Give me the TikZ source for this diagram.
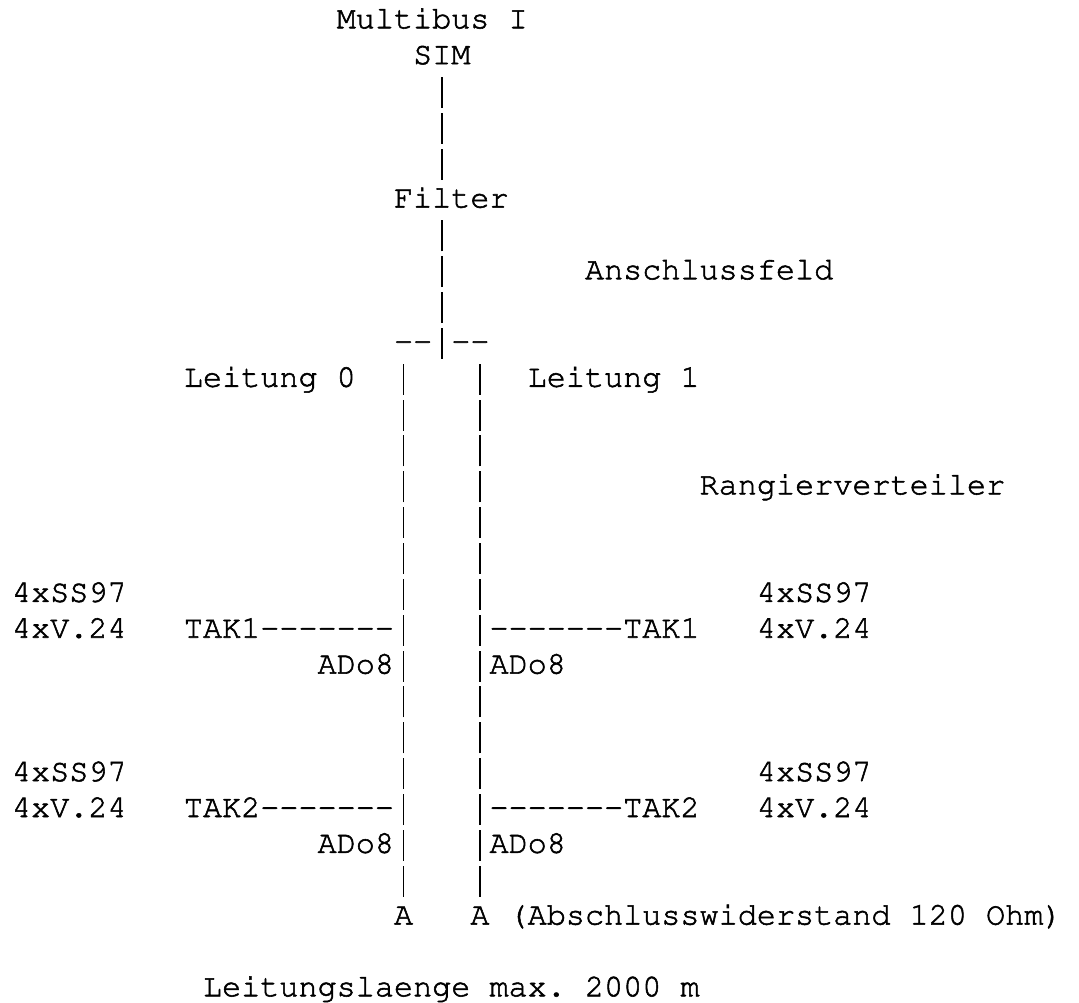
\documentclass[tikz,border=0pt]{standalone}
\usepackage[T1]{fontenc}
\usepackage{courier}
\frenchspacing

% One fragment of the typewriter layout: name, column, row, text.
% Columns are 19.1 units wide, rows 35.85 units apart.
\newcommand\rowtext[4]{%
  \node[txt] (#1) at ({12+(#2)*19.1},{973.7-((#3)-1)*35.85}) {#4};}
% a full-height vertical bar, one character cell wide
\newcommand\vb{\makebox[19.1pt]{\rule[-8pt]{1.8pt}{31pt}}}
% slightly heavier strokes for the typewriter glyphs
\newcommand\heavytext{\special{pdf:code 2 Tr 0.55 w}}

\begin{document}
\begin{tikzpicture}[x=1pt,y=1pt,
  txt/.style={font=\ttfamily\fontsize{31.83}{36}\selectfont\heavytext,
              anchor=base west, inner sep=0pt, outer sep=0pt, text=black}]
  \fill[white] (0,0) rectangle (1079,1002);
  \useasboundingbox (0,0) rectangle (1079,1002);

  % bus and filter
  \rowtext{bus}{17}{1}{Multibus I}
  \rowtext{sim}{21}{2}{SIM}
  \rowtext{s3}{22}{3}{\vb}
  \rowtext{s4}{22}{4}{\vb}
  \rowtext{s5}{22}{5}{\vb}
  \rowtext{filter}{20}{6}{Filter}
  \rowtext{s7}{22}{7}{\vb}
  \rowtext{s8}{22}{8}{\vb}
  \rowtext{feld}{30}{8}{Anschlussfeld}
  \rowtext{s9}{22}{9}{\vb}
  \rowtext{split}{20}{10}{-{}-\vb-{}-}

  % the two lines
  \rowtext{lt0}{9}{11}{Leitung 0}
  \rowtext{l11}{20}{11}{\vb}
  \rowtext{r11}{24}{11}{\vb}
  \rowtext{lt1}{27}{11}{Leitung 1}
  \foreach \k in {12,13,14,15,16,17,20,21,22,25}{
    \rowtext{l\k}{20}{\k}{\vb}
    \rowtext{r\k}{24}{\k}{\vb}
  }
  \rowtext{rang}{36}{14}{Rangierverteiler}

  % first pair of terminals
  \rowtext{ssL1}{0}{17}{4xSS97}
  \rowtext{ssR1}{39}{17}{4xSS97}
  \rowtext{vL1}{0}{18}{4xV.24}
  \rowtext{takL1}{9}{18}{TAK1-{}-{}-{}-{}-{}-{}-\vb}
  \rowtext{takR1}{24}{18}{\vb-{}-{}-{}-{}-{}-{}-TAK1}
  \rowtext{vR1}{39}{18}{4xV.24}
  \rowtext{adoL1}{16}{19}{ADo8\vb}
  \rowtext{adoR1}{24}{19}{\vb ADo8}

  % second pair of terminals
  \rowtext{ssL2}{0}{22}{4xSS97}
  \rowtext{ssR2}{39}{22}{4xSS97}
  \rowtext{vL2}{0}{23}{4xV.24}
  \rowtext{takL2}{9}{23}{TAK2-{}-{}-{}-{}-{}-{}-\vb}
  \rowtext{takR2}{24}{23}{\vb-{}-{}-{}-{}-{}-{}-TAK2}
  \rowtext{vR2}{39}{23}{4xV.24}
  \rowtext{adoL2}{16}{24}{ADo8\vb}
  \rowtext{adoR2}{24}{24}{\vb ADo8}

  % terminations
  \rowtext{endL}{20}{26}{A}
  \rowtext{endR}{24}{26}{A (Abschlusswiderstand 120 Ohm)}

  \rowtext{len}{10}{28}{Leitungslaenge max. 2000 m}
\end{tikzpicture}
\end{document}
